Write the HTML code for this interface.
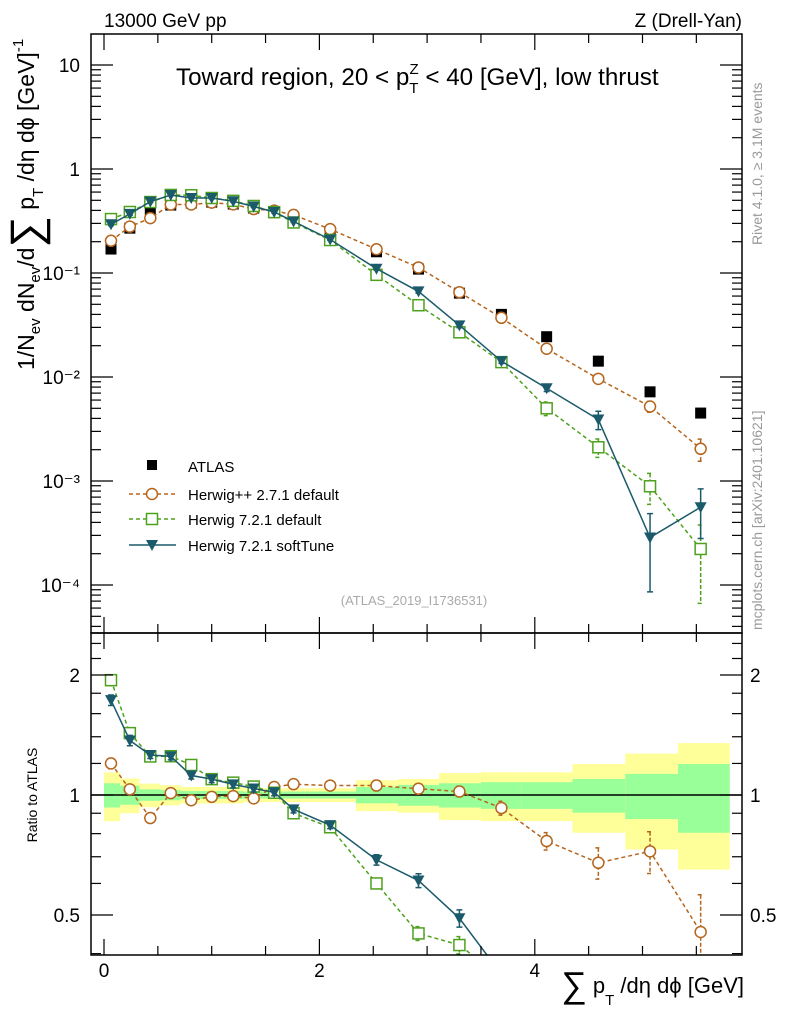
<!DOCTYPE html>
<html><head><meta charset="utf-8"><style>
html,body{margin:0;background:#fff;overflow:hidden;width:786px;height:1024px;}
svg{font-family:"Liberation Sans",sans-serif;display:block;}
</style></head><body>
<svg id="c" width="786" height="1024" viewBox="0 0 786 1024" xmlns="http://www.w3.org/2000/svg">
<g id="bands"></g>
<g id="marks"></g>
<g id="axes"></g>
<text x="104" y="27" font-size="19">13000 GeV pp</text>
<text x="742" y="27" font-size="19" text-anchor="end">Z (Drell-Yan)</text>
<text x="176" y="85" font-size="24.2">Toward region, 20 &lt; p<tspan font-size="15" dy="8">T</tspan><tspan font-size="15" dx="-9" dy="-19">Z</tspan><tspan dy="11"> &lt; 40 [GeV], low thrust</tspan></text>
<text x="414" y="605" font-size="13" fill="#aaa" text-anchor="middle">(ATLAS_2019_I1736531)</text>
<text transform="translate(762,245) rotate(-90)" font-size="14" fill="#999">Rivet 4.1.0, ≥ 3.1M events</text>
<text transform="translate(762,630) rotate(-90)" font-size="14" fill="#999">mcplots.cern.ch [arXiv:2401.10621]</text>
<text transform="translate(34,370) rotate(-90)" font-size="23">1/N<tspan font-size="15" dy="6">ev</tspan><tspan dy="-6"> dN</tspan><tspan font-size="15" dy="6">ev</tspan><tspan dy="-6">/d</tspan><tspan font-size="44" dy="7">∑</tspan><tspan dy="-7"> p</tspan><tspan font-size="15" dy="9">T</tspan><tspan dy="-9"> /dη dϕ  [GeV]</tspan><tspan font-size="15" dy="-11">-1</tspan></text>
<text transform="translate(37,795) rotate(-90)" font-size="14" text-anchor="middle">Ratio to ATLAS</text>
<text x="744" y="993" font-size="22" text-anchor="end"><tspan font-size="36" dy="4">∑</tspan><tspan dy="-4"> p</tspan><tspan font-size="15" dy="12">T</tspan><tspan dy="-12"> /dη dϕ [GeV]</tspan></text>
<g>
<rect x="147" y="460" width="10" height="10" fill="#000"/>
<text x="188" y="472" font-size="15">ATLAS</text>
<line x1="129" x2="176" y1="494" y2="494" stroke="#b5651d" stroke-width="1.5" stroke-dasharray="4,3"/>
<circle cx="152" cy="494" r="5.5" fill="#fff" stroke="#b5651d" stroke-width="1.5"/>
<text x="188" y="500" font-size="15">Herwig++ 2.7.1 default</text>
<line x1="129" x2="176" y1="519" y2="519" stroke="#4da11d" stroke-width="1.5" stroke-dasharray="4,3"/>
<rect x="146.5" y="513.5" width="11" height="11" fill="#fff" stroke="#4da11d" stroke-width="1.5"/>
<text x="188" y="525" font-size="15">Herwig 7.2.1 default</text>
<line x1="129" x2="176" y1="545" y2="545" stroke="#1b5a6b" stroke-width="1.5"/>
<path d="M146,540 L158,540 L152,551 Z" fill="#1b5a6b"/>
<text x="188" y="551" font-size="15">Herwig 7.2.1 softTune</text>
</g>
</svg>
<script>
const binEdges=[0,0.15,0.33,0.52,0.71,0.9,1.1,1.29,1.48,1.67,1.86,2.34,2.73,3.11,3.5,3.88,4.35,4.84,5.33,5.81];
const binCenters=[0.065,0.24,0.43,0.62,0.81,1.0,1.2,1.39,1.58,1.76,2.1,2.53,2.92,3.3,3.69,4.11,4.59,5.07,5.54];
const atlas=[0.17,0.27,0.385,0.45,0.47,0.48,0.46,0.42,0.38,0.34,0.25,0.16,0.109,0.064,0.040,0.0244,0.0142,0.0072,0.0045];
const atlasStat=[0.07,0.055,0.033,0.03,0.023,0.023,0.023,0.02,0.02,0.02,0.02,0.047,0.06,0.07,0.077,0.077,0.097,0.13,0.196];
const atlasTot=[0.14,0.10,0.068,0.058,0.048,0.048,0.048,0.04,0.04,0.04,0.04,0.089,0.097,0.135,0.14,0.14,0.196,0.27,0.35];
const herwigpp=[0.204,0.279,0.337,0.455,0.456,0.475,0.457,0.412,0.398,0.362,0.264,0.169,0.113,0.0653,0.0371,0.0187,0.0096,0.0052,0.00204];
const herwigppErr=[0.03,0.02,0.02,0.02,0.02,0.02,0.02,0.02,0.02,0.02,0.02,0.03,0.03,0.03,0.04,0.05,0.09,0.12,0.24];
const h7def=[0.33,0.386,0.481,0.563,0.559,0.526,0.494,0.441,0.385,0.306,0.2075,0.096,0.049,0.0269,0.0139,0.0050,0.00211,0.00089,0.000222];
const h7defErr=[0.03,0.02,0.02,0.02,0.02,0.02,0.02,0.02,0.02,0.02,0.02,0.03,0.04,0.05,0.05,0.15,0.2,0.33,0.7];
const h7soft=[0.294,0.37,0.485,0.5625,0.526,0.526,0.489,0.436,0.386,0.313,0.21,0.110,0.0665,0.0314,0.0142,0.0078,0.0039,0.000286,0.00056];
const h7softErr=[0.03,0.03,0.02,0.02,0.02,0.02,0.02,0.02,0.02,0.02,0.02,0.03,0.04,0.05,0.05,0.07,0.2,0.7,0.5];
const yTickLabels=["10\u207B\u2074","10\u207B\u00B3","10\u207B\u00B2","10\u207B\u00B9","1","10"];
const xTickLabels=["0","2","4"];
const ratioTickLabels=["0.5","1","2"];

const NS="http://www.w3.org/2000/svg";
const L=91,R=742,T=34,MB=633,RB=955;
function X(v){return 104+v*107.7;}
function Y(v){return 169-Math.log10(v)*104;}
function YR(r){return 795-Math.log2(r)*120;}
function mk(tag,attrs,parent){const e=document.createElementNS(NS,tag);for(const k in attrs)e.setAttribute(k,attrs[k]);parent.appendChild(e);return e;}
const axes=document.getElementById('axes'),marks=document.getElementById('marks'),bands=document.getElementById('bands');

for(let i=0;i<atlas.length;i++){
  const x0=X(binEdges[i]),x1=X(binEdges[i+1]);
  const y=mk('rect',{x:x0,y:YR(1+atlasTot[i]),width:x1-x0,height:YR(1-atlasTot[i])-YR(1+atlasTot[i]),fill:'#ffff99'},bands);
  
  
  const g=mk('rect',{x:x0,y:YR(1+atlasStat[i]),width:x1-x0,height:YR(1-atlasStat[i])-YR(1+atlasStat[i]),fill:'#99ff99'},bands);
  
  
}
mk('line',{x1:L,x2:R,y1:YR(1),y2:YR(1),stroke:'#000','stroke-width':1.5},bands);

const defs=mk('defs',{},document.getElementById('c'));
const cm=mk('clipPath',{id:'cm'},defs);mk('rect',{x:L,y:T,width:R-L,height:MB-T},cm);
const cr=mk('clipPath',{id:'cr'},defs);mk('rect',{x:L,y:MB,width:R-L,height:RB-MB},cr);
const gm=mk('g',{'clip-path':'url(#cm)'},marks);
const gr=mk('g',{'clip-path':'url(#cr)'},marks);

function marker(kind,x,y,col,parent){
  let e;
  if(kind==='circle')e=mk('circle',{cx:x,cy:y,r:5.5,fill:'#fff',stroke:col,'stroke-width':1.5},parent);
  else if(kind==='square')e=mk('rect',{x:x-5.5,y:y-5.5,width:11,height:11,fill:'#fff',stroke:col,'stroke-width':1.5},parent);
  else if(kind==='tri')e=mk('path',{d:`M${x-6},${y-5} L${x+6},${y-5} L${x},${y+6} Z`,fill:col},parent);
  else e=mk('rect',{x:x-5.5,y:y-5.5,width:11,height:11,fill:'#000'},parent);
  return e;
}
const series=[
 {name:'herwigpp',vals:herwigpp,err:herwigppErr,col:'#b5651d',kind:'circle',dash:'4,3'},
 {name:'herwig7-default',vals:h7def,err:h7defErr,col:'#4da11d',kind:'square',dash:'4,3'},
 {name:'herwig7-softtune',vals:h7soft,err:h7softErr,col:'#1b5a6b',kind:'tri',dash:null}
];
for(let i=0;i<atlas.length;i++){
  const e=marker('atlas',X(binCenters[i]),Y(atlas[i]),'#000',gm);
  
  
}
series.forEach(s=>{
  [[gm,(v,i)=>Y(v)],[gr,(v,i)=>YR(v/atlas[i])]].forEach(([par,f])=>{
    const pts=s.vals.map((v,i)=>X(binCenters[i])+','+f(v,i)).join(' ');
    const pl=mk('polyline',{points:pts,fill:'none',stroke:s.col,'stroke-width':1.5},par);
    if(s.dash)pl.setAttribute('stroke-dasharray',s.dash);
    
    
    s.vals.forEach((v,i)=>{
      const x=X(binCenters[i]);
      const lo=Math.max(v*(1-s.err[i]),v*0.05);
      const y1=f(v*(1+s.err[i]),i),y2=f(lo,i);
      const eb=mk('path',{d:`M${x},${y1} L${x},${y2} M${x-3},${y1} L${x+3},${y1} M${x-3},${y2} L${x+3},${y2}`,stroke:s.col,'stroke-width':1.5,fill:'none'},par);
      if(s.dash)eb.setAttribute('stroke-dasharray','4,2');
      
      
      const m=marker(s.kind,x,f(v,i),s.col,par);
      
      
    });
  });
});

mk('rect',{x:L,y:T,width:R-L,height:MB-T,fill:'none',stroke:'#000','stroke-width':1.5},axes);
mk('rect',{x:L,y:MB,width:R-L,height:RB-MB,fill:'none',stroke:'#000','stroke-width':1.5},axes);
for(let d=-5;d<=1;d++){
  for(let m=1;m<10;m++){
    const v=m*Math.pow(10,d),y=Y(v);
    if(y<T||y>MB)continue;
    const len=m===1?22:10;
    mk('line',{x1:L,x2:L+len,y1:y,y2:y,stroke:'#000','stroke-width':1.2},axes);
    mk('line',{x1:R,x2:R-len,y1:y,y2:y,stroke:'#000','stroke-width':1.2},axes);
  }
}
for(let k=0;k<yTickLabels.length;k++){
  const t=mk('text',{x:80,y:Y(Math.pow(10,k-4))+7,'font-size':19,'text-anchor':'end'},axes);
  t.textContent=yTickLabels[k];
  
  
}
for(let v=0;v<=5.9;v+=0.5){
  const x=X(v),len=(Math.abs(v%2)<1e-6)?16:9;
  [[T,1],[MB,-1],[MB,1],[RB,-1]].forEach(([y0,dir])=>mk('line',{x1:x,x2:x,y1:y0,y2:y0+dir*len,stroke:'#000','stroke-width':1.2},axes));
}
xTickLabels.forEach((lab,k)=>{
  const t=mk('text',{x:X(k*2),y:977,'font-size':19,'text-anchor':'middle'},axes);
  t.textContent=lab;
  
  
});
[0.4,0.5,0.6,0.7,0.8,0.9,1,1.2,1.4,1.6,1.8,2,2.2,2.4].forEach(r=>{
  const y=YR(r);if(y<MB||y>RB)return;
  const len=(r===0.5||r===1||r===2)?22:10;
  mk('line',{x1:L,x2:L+len,y1:y,y2:y,stroke:'#000','stroke-width':1.2},axes);
  mk('line',{x1:R,x2:R-len,y1:y,y2:y,stroke:'#000','stroke-width':1.2},axes);
});
ratioTickLabels.forEach(lab=>{
  const y=YR(parseFloat(lab))+7;
  const t=mk('text',{x:80,y:y,'font-size':19,'text-anchor':'end'},axes);
  t.textContent=lab;
  
  
  const t2=mk('text',{x:750,y:y,'font-size':19},axes);
  t2.textContent=lab;
  
  
});
</script>
</body></html>
